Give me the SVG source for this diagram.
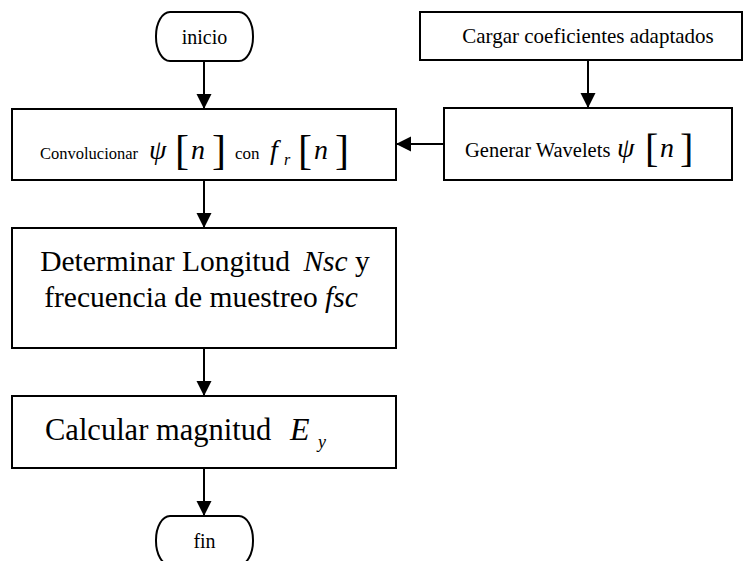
<svg xmlns="http://www.w3.org/2000/svg" width="744" height="561" viewBox="0 0 744 561">
<defs>
<marker id="ah" markerUnits="userSpaceOnUse" markerWidth="16" markerHeight="16" refX="15" refY="7.5" orient="auto">
<path d="M0,0 L15,7.5 L0,15 Z" fill="#000"/>
</marker>
</defs>
<style>
.box{fill:#fff;stroke:#000;stroke-width:2}
.c{stroke:#000;stroke-width:2;fill:none;marker-end:url(#ah)}
</style>
<rect width="744" height="561" fill="#fff"/>
<g id="connectors">
<line class="c" x1="204" y1="61" x2="204" y2="109"/>
<line class="c" x1="588" y1="60" x2="588" y2="108"/>
<line class="c" x1="444" y1="144" x2="396" y2="144"/>
<line class="c" x1="204" y1="180" x2="204" y2="228"/>
<line class="c" x1="204" y1="348" x2="204" y2="396"/>
<line class="c" x1="204" y1="468" x2="204" y2="516"/>
</g>
<g font-family="Liberation Serif, Times New Roman, DejaVu Serif, serif" fill="#000">
<g id="inicio">
<rect class="box" x="156" y="12" width="97" height="49" rx="14" ry="24"/>
<text x="204.5" y="44" font-size="20" text-anchor="middle">inicio</text>
</g>
<g id="cargar">
<rect class="box" x="420" y="12" width="322" height="48"/>
<text x="588" y="43" font-size="21" text-anchor="middle">Cargar coeficientes adaptados</text>
</g>
<g id="generar">
<rect class="box" x="444" y="108" width="288" height="72"/>
<text x="465" y="157" font-size="20.5">Generar Wavelets</text>
<text font-style="italic" x="617" y="157" font-size="28">ψ</text>
<text x="645" y="162" font-size="40">[</text>
<text font-style="italic" x="660" y="157" font-size="28">n</text>
<text x="680" y="162" font-size="40">]</text>
</g>
<g id="convolucionar">
<rect class="box" x="12" y="109" width="384" height="71"/>
<text x="40" y="159" font-size="16.5">Convolucionar</text>
<text font-style="italic" x="149" y="159" font-size="28">ψ</text>
<text x="175" y="164" font-size="42">[</text>
<text font-style="italic" x="191" y="159" font-size="28">n</text>
<text x="212" y="164" font-size="42">]</text>
<text x="235" y="159" font-size="17">con</text>
<text font-style="italic" x="270" y="159" font-size="28">f</text>
<text font-style="italic" x="284" y="165" font-size="16">r</text>
<text x="298" y="164" font-size="42">[</text>
<text font-style="italic" x="314" y="159" font-size="28">n</text>
<text x="335" y="164" font-size="42">]</text>
</g>
<g id="determinar">
<rect class="box" x="12" y="228" width="384" height="120"/>
<text x="205" y="271" font-size="29.5" text-anchor="middle">Determinar Longitud <tspan font-style="italic" dx="6">Nsc</tspan> y</text>
<text x="201" y="307" font-size="29.5" text-anchor="middle">frecuencia de muestreo <tspan font-style="italic">fsc</tspan></text>
</g>
<g id="calcular">
<rect class="box" x="12" y="396" width="384" height="72"/>
<text x="45" y="440" font-size="30.5">Calcular magnitud</text>
<text font-style="italic" x="290" y="440" font-size="32">E</text>
<text font-style="italic" x="318" y="448" font-size="18">y</text>
</g>
<g id="fin">
<rect class="box" x="156" y="516" width="97" height="49" rx="14" ry="24"/>
<text x="204.5" y="548" font-size="20" text-anchor="middle">fin</text>
</g>
</g>
</svg>
